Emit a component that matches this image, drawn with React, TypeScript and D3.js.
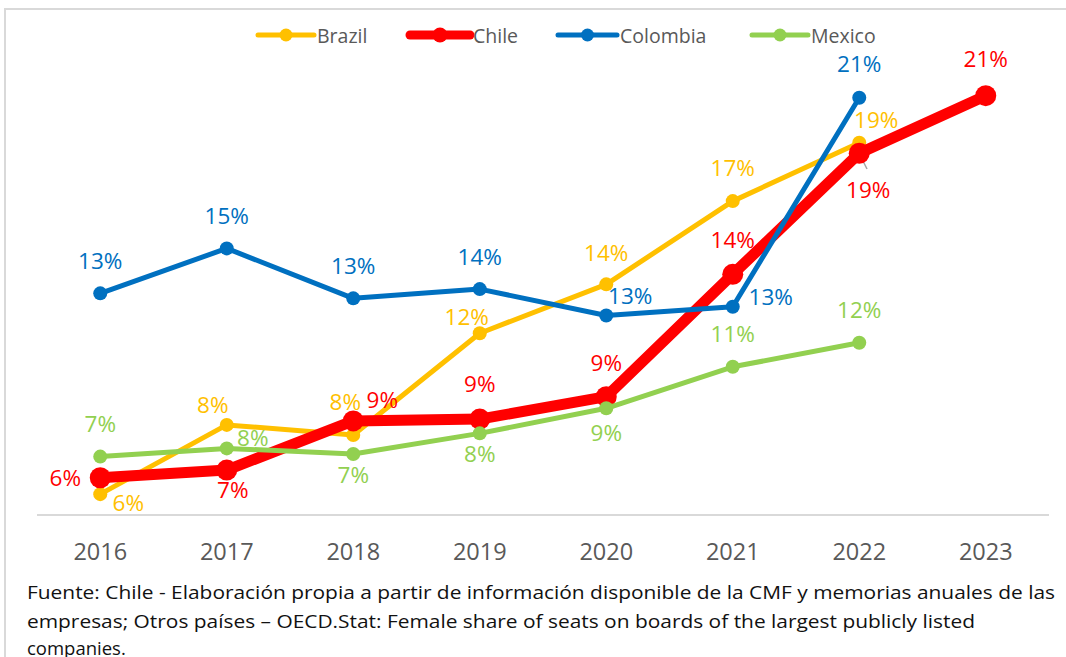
import React from "react";
import * as d3 from "d3";

const years = ["2016", "2017", "2018", "2019", "2020", "2021", "2022", "2023"];
const brazil = [5.79, 8.41, 8.03, 11.88, 13.73, 16.88, 19.09, null];
const chile = [6.41, 6.7, 8.56, 8.63, 9.48, 14.11, 18.69, 20.87];
const colombia = [13.39, 15.09, 13.2, 13.55, 12.55, 12.88, 20.79, null];
const mexico = [7.21, 7.52, 7.31, 8.09, 9.04, 10.61, 11.52, null];
const seriesNames = ["Brazil", "Chile", "Colombia", "Mexico"];
const footnote = [
  "Fuente: Chile - Elaboración propia a partir de información disponible de la CMF y memorias anuales de las",
  "empresas; Otros países – OECD.Stat: Female share of seats on boards of the largest publicly listed",
  "companies.",
];

// label placement offsets (dx, dy) relative to each point
const labelOffsets: Record<string, [number, number][]> = {
  Brazil: [[28, 8], [-14, -20], [-8, -33], [-13, -17], [0, -32], [0, -34], [17, -23]],
  Chile: [[-35, 0], [6, 19], [29, -21], [0, -36], [0, -34], [0, -35], [9, 36], [0, -37]],
  Colombia: [[0, -33], [0, -33], [0, -33], [0, -33], [24, -20], [38, -10], [0, -34]],
  Mexico: [[0, -33], [26, -11], [0, 21], [0, 20], [0, 24], [0, -33], [0, -33]],
};

const styles: Record<string, { color: string; width: number; r: number }> = {
  Brazil: { color: "#FFC000", width: 5, r: 7 },
  Chile: { color: "#FF0000", width: 11, r: 10.5 },
  Colombia: { color: "#0070C0", width: 5, r: 7 },
  Mexico: { color: "#92D050", width: 5, r: 7 },
};

const W = 1066;
const H = 657;
const FONT = "'Open Sans', sans-serif";

export default function App() {
  const data: Record<string, (number | null)[]> = {
    Brazil: brazil,
    Chile: chile,
    Colombia: colombia,
    Mexico: mexico,
  };
  const x = d3.scaleBand<string>().domain(years).range([37, 1049]);
  const cx = (yr: string) => (x(yr) as number) + x.bandwidth() / 2;
  const y = d3.scaleLinear().domain([5, 24]).range([515, 13]);

  const line = d3
    .line<[string, number | null]>()
    .defined((d) => d[1] != null)
    .x((d) => cx(d[0]))
    .y((d) => y(d[1] as number));

  const legendX = [258, 410, 558, 752];
  const legendW = [56, 60, 59, 56];

  return (
    <svg
      width={W}
      height={H}
      style={{ position: "absolute", left: 0, top: 0, background: "#fff" }}
      fontFamily={FONT}
    >
      <rect x={5} y={9} width={1080} height={700} fill="#fff" stroke="#D9D9D9" strokeWidth={2} />
      {/* axis line */}
      <line x1={37} x2={1049} y1={515} y2={515} stroke="#D9D9D9" strokeWidth={2} />
      {years.map((yr) => (
        <text
          key={yr}
          x={cx(yr)}
          y={560}
          textAnchor="middle"
          fontSize={23.5}
          fill="#595959"
        >
          {yr}
        </text>
      ))}
      {/* leader lines */}
      <line x1={346} y1={415} x2={353} y2={433} stroke="#A6A6A6" strokeWidth={1.5} />
      <line x1={860} y1={155} x2={867} y2={169} stroke="#A6A6A6" strokeWidth={1.5} />
      {/* series */}
      {seriesNames.map((name) => {
        const vals = data[name];
        const st = styles[name];
        const pts = years.map((yr, i) => [yr, vals[i] ?? null] as [string, number | null]);
        return (
          <g key={name}>
            <path
              d={line(pts) || ""}
              fill="none"
              stroke={st.color}
              strokeWidth={st.width}
              strokeLinejoin="round"
              strokeLinecap="round"
            />
            {pts
              .filter((p) => p[1] != null)
              .map((p) => (
                <circle key={p[0]} cx={cx(p[0])} cy={y(p[1] as number)} r={st.r} fill={st.color} />
              ))}
          </g>
        );
      })}
      {/* data labels */}
      {seriesNames.map((name) => {
        const vals = data[name];
        const st = styles[name];
        return (
          <g key={name + "-lbl"}>
            {years.map((yr, i) => {
              const v = vals[i];
              if (v == null) return null;
              const off = labelOffsets[name][i];
              return (
                <text
                  key={yr}
                  x={cx(yr) + off[0]}
                  y={y(v) + off[1]}
                  textAnchor="middle"
                  dominantBaseline="central"
                  fontSize={22.5}
                  fill={st.color}
                >
                  {Math.round(v) + "%"}
                </text>
              );
            })}
          </g>
        );
      })}
      {/* legend */}
      {seriesNames.map((name, i) => {
        const st = styles[name];
        const lx = legendX[i];
        const lw = legendW[i];
        return (
          <g key={name + "-leg"}>
            <line
              x1={lx}
              x2={lx + lw}
              y1={35}
              y2={35}
              stroke={st.color}
              strokeWidth={st.width === 11 ? 9 : 5}
              strokeLinecap="round"
            />
            <circle cx={lx + lw / 2} cy={35} r={st.width === 11 ? 7.5 : 6.5} fill={st.color} />
            <text x={lx + lw + 3} y={35} dominantBaseline="central" fontSize={19.5} fill="#595959">
              {name}
            </text>
          </g>
        );
      })}
      {/* footnote */}
      <text x={27} y={599} fontSize={18.5} fill="#111" textLength={1028} lengthAdjust="spacingAndGlyphs">
        {footnote[0]}
      </text>
      <text x={27} y={628} fontSize={18.5} fill="#111" textLength={948} lengthAdjust="spacingAndGlyphs">
        {footnote[1]}
      </text>
      <text x={27} y={655} fontSize={18.5} fill="#111">
        {footnote[2]}
      </text>
    </svg>
  );
}
